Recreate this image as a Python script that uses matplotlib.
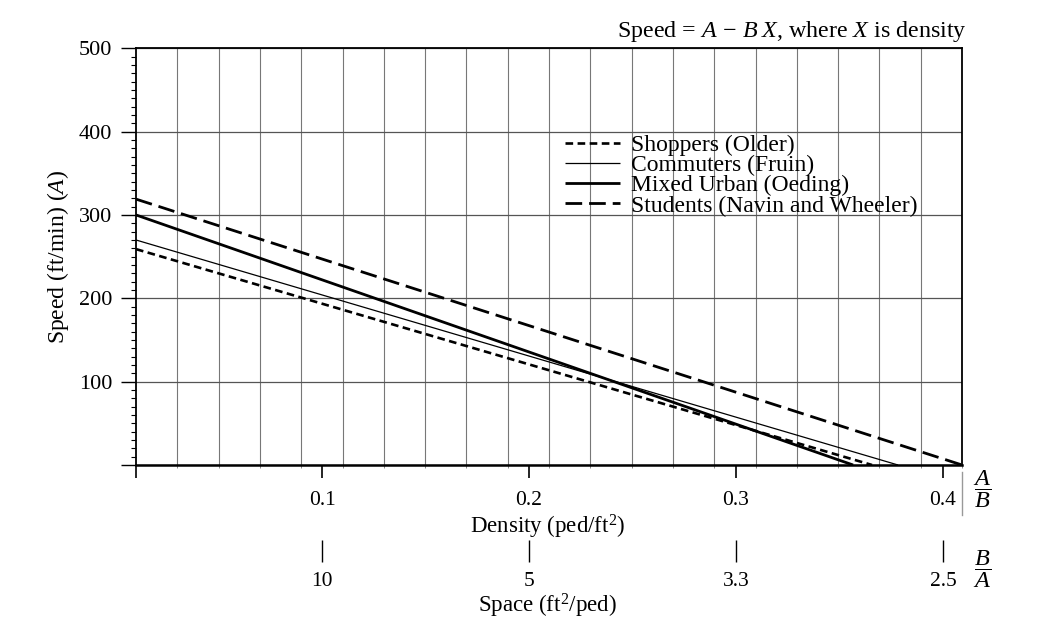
import matplotlib
matplotlib.use("Agg")
import matplotlib.pyplot as plt
import numpy as np

plt.rcParams['font.family'] = ['Liberation Serif', 'DejaVu Serif']
plt.rcParams['mathtext.fontset'] = 'custom'
plt.rcParams['mathtext.rm'] = 'Liberation Serif'
plt.rcParams['mathtext.it'] = 'Liberation Serif:italic'
plt.rcParams['mathtext.bf'] = 'Liberation Serif:bold'
plt.rcParams['lines.scale_dashes'] = False

# ---- data ----
series = ['Shoppers (Older)', 'Commuters (Fruin)', 'Mixed Urban (Oeding)',
          'Students (Navin and Wheeler)']
A_values = [266.4, 277.4, 308.8, 327.1]   # ft/min
B_values = [728.4, 733.3, 866.0, 799.3]
density_ticks = [0.1, 0.2, 0.3, 0.4]
density_labels = ['0.1', '0.2', '0.3', '0.4']
space_labels = ['10', '5', '3.3', '2.5']
speed_ticks = [0, 100, 200, 300, 400, 500]
speed_labels = ['', '100', '200', '300', '400', '500']
x_start, x_end = 0.0101, 0.4092

styles = [dict(lw=1.9, dashes=(5.5, 3.2)),
          dict(lw=0.9, linestyle='-'),
          dict(lw=2.0, linestyle='-'),
          dict(lw=2.0, dashes=(12, 5))]

fig = plt.figure(figsize=(10.51, 6.20), dpi=100)
ax = fig.add_axes([136/1051, 1-465/620, (962-136)/1051, (465-48.3)/620])

for name, A, B, st in zip(series, A_values, B_values, styles):
    xs = np.array([x_start, A / B])
    ax.plot(xs, A - B * xs, color='black', label=name,
            solid_capstyle='butt', dash_capstyle='butt', **st)

ax.set_xlim(x_start, x_end)
ax.set_ylim(0, 500)

ax.set_xticks([x_start] + density_ticks, labels=[''] + density_labels)
ax.set_xticks(np.linspace(x_start, x_end, 21), minor=True)
ax.set_yticks(speed_ticks, labels=speed_labels)
ax.set_yticks(np.arange(0, 501, 10), minor=True)

ax.xaxis.grid(True, which='minor', color='#777777', lw=0.8)
ax.yaxis.grid(True, which='major', color='#555555', lw=0.9)
ax.set_axisbelow(True)

ax.tick_params(axis='x', which='major', direction='out', length=9.5, width=1.2,
               pad=9, labelsize=15.5)
ax.tick_params(axis='x', which='minor', direction='out', length=2.5, width=0.7,
               color='#888888')
ax.tick_params(axis='y', which='major', direction='out', length=11, width=1.0,
               pad=6, labelsize=16)
ax.tick_params(axis='y', which='minor', direction='out', length=3.6, width=0.8)

for s in ['top', 'right', 'left']:
    ax.spines[s].set_linewidth(1.3)
ax.spines['bottom'].set_linewidth(1.8)

# legend
leg = ax.legend(loc='upper left', bbox_to_anchor=((560-136)/826, (465-130)/416.7),
                frameon=False, fontsize=17, handlelength=2.35, handletextpad=0.45,
                labelspacing=-0.06, borderpad=0.2, borderaxespad=0)

# title formula
ax.text((967-136)/826, (465-32)/416.7,
        r'Speed = $A\,-\,B\;X$, where $X$ is density',
        transform=ax.transAxes, ha='right', va='center', fontsize=17.3)

# axis labels
ax.set_ylabel(r'Speed (ft/min) ($A$)', fontsize=17)
ax.yaxis.set_label_coords((58-136)/826, 0.5)
ax.yaxis.label.set_va('center')

ax.set_xlabel(r'Density (ped/ft$^2$)', fontsize=16.5)
ax.xaxis.set_label_coords((548-136)/826, (465-527)/416.7)
ax.xaxis.label.set_va('center')

# secondary (space) scale
sec = ax.secondary_xaxis(-(551-465)/416.7)
sec.set_xticks(density_ticks, labels=space_labels)
sec.spines['bottom'].set_visible(False)
sec.tick_params(direction='inout', length=15.8, width=1.0, pad=7, labelsize=15.5)

ax.text((547-136)/826, (465-606)/416.7, r'Space (ft$^2$/ped)',
        transform=ax.transAxes, ha='center', va='center', fontsize=16.5)

# A/B and B/A markers
ax.text((982-136)/826, (465-489)/416.7, r'$\dfrac{A}{B}$',
        transform=ax.transAxes, ha='center', va='center', fontsize=17.5)
ax.text((982-136)/826, (465-569)/416.7, r'$\dfrac{B}{A}$',
        transform=ax.transAxes, ha='center', va='center', fontsize=17.5)
ax.plot([x_end, x_end], [(465-472)/416.7, (465-515)/416.7],
        transform=ax.get_xaxis_transform(), clip_on=False, color='#999999', lw=1)

fig.savefig('out.png', dpi=100, facecolor='white')
